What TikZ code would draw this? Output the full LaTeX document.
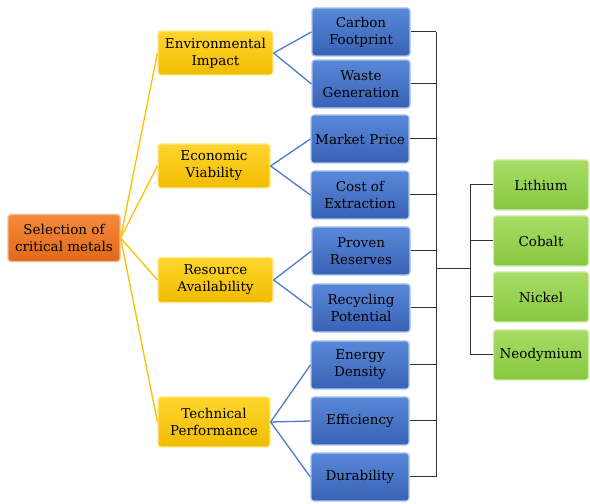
\documentclass[tikz,border=0pt]{standalone}
\usepackage{fontspec}
\setmainfont{DejaVu Serif}
\usetikzlibrary{positioning}
\definecolor{orgT}{HTML}{F58A3C}\definecolor{orgB}{HTML}{E0691A}\definecolor{orgD}{HTML}{F9B88A}
\definecolor{ylwT}{HTML}{FFD62E}\definecolor{ylwB}{HTML}{F0BC00}\definecolor{ylwD}{HTML}{FFE98A}
\definecolor{bluT}{HTML}{5A88D8}\definecolor{bluB}{HTML}{3862B5}\definecolor{bluD}{HTML}{A9C3F0}
\definecolor{grnT}{HTML}{A6DC64}\definecolor{grnB}{HTML}{88C840}\definecolor{grnD}{HTML}{CDEBA8}
\definecolor{ylwL}{HTML}{FFC000}\definecolor{bluL}{HTML}{4A7BCF}
\tikzset{
  x=1pt,y=1pt,
  base/.style={rounded corners=3pt, line width=1.2pt, align=center, inner sep=0pt,
    font=\fontsize{13.5}{17}\selectfont, text=black},
  rootbox/.style={base, top color=orgT, bottom color=orgB, draw=orgD, minimum width=112, minimum height=47},
  ybox/.style={base, top color=ylwT, bottom color=ylwB, draw=ylwD, minimum width=115, minimum height=44},
  bbox/.style={base, top color=bluT, bottom color=bluB, draw=bluD, minimum width=98, minimum height=48},
  gbox/.style={base, top color=grnT, bottom color=grnB, draw=grnD, minimum width=95, minimum height=50},
  yline/.style={ylwL, line width=1.3pt},
  bline/.style={bluL, line width=1.3pt},
  kline/.style={black!80, line width=1pt},
}
\begin{document}
\begin{tikzpicture}
\useasboundingbox (0,0) rectangle (590,504);
\node[rootbox] (root) at (64,266) {Selection of\\critical metals};
\node[ybox] (env) at (215.5,451) {Environmental\\Impact};
\node[ybox, minimum width=112] (eco) at (214,338) {Economic\\Viability};
\node[ybox, minimum height=45] (res) at (215.5,224) {Resource\\Availability};
\node[ybox, minimum width=112, minimum height=50] (tec) at (214,82) {Technical\\Performance};
\node[bbox] (cf) at (361,472) {Carbon\\Footprint};
\node[bbox] (wg) at (361,420) {Waste\\Generation};
\node[bbox] (mp) at (360,365) {Market Price};
\node[bbox] (ce) at (360,309) {Cost of\\Extraction};
\node[bbox] (pr) at (361,253) {Proven\\Reserves};
\node[bbox] (rp) at (361,196) {Recycling\\Potential};
\node[bbox] (ed) at (360,139) {Energy\\Density};
\node[bbox] (ef) at (360,83) {Efficiency};
\node[bbox] (du) at (360,27) {Durability};
\node[gbox] (li) at (541,319) {Lithium};
\node[gbox] (co) at (541,263) {Cobalt};
\node[gbox] (ni) at (541,207) {Nickel};
\node[gbox] (nd) at (541,149) {Neodymium};
\foreach \t in {env,eco,res,tec} \draw[yline] (root.east) -- (\t.west);
\foreach \t in {cf,wg} \draw[bline] (env.east) -- (\t.west);
\foreach \t in {mp,ce} \draw[bline] (eco.east) -- (\t.west);
\foreach \t in {pr,rp} \draw[bline] (res.east) -- (\t.west);
\foreach \t in {ed,ef,du} \draw[bline] (tec.east) -- (\t.west);
\coordinate (jl) at (436,235);
\coordinate (jr) at (470,235);
\draw[kline] (cf.east -| jl) -- (du.east -| jl);
\foreach \t in {cf,wg,mp,ce,pr,rp,ed,ef,du} \draw[kline] (\t.east) -- (\t.east -| jl);
\draw[kline] (jl) -- (jr);
\draw[kline] (li.west -| jr) -- (nd.west -| jr);
\foreach \t in {li,co,ni,nd} \draw[kline] (\t.west -| jr) -- (\t.west);
\end{tikzpicture}
\end{document}
